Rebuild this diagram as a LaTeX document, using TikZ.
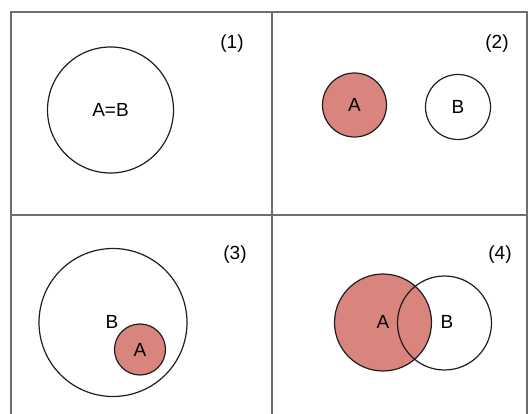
\documentclass[tikz,border=0pt]{standalone}
\usepackage{fontspec}
\setmainfont{Liberation Sans}
\usetikzlibrary{positioning}
\definecolor{cFrame}{RGB}{110,110,110}
\definecolor{cSetA}{RGB}{218,132,126}
\definecolor{cEdge}{RGB}{30,30,30}
\tikzset{
	setc/.style   ={circle, draw=cEdge, line width=1.2pt, inner sep=0pt},
	setfill/.style={setc, fill=cSetA},
	tag/.style    ={inner sep=0pt},
	frameln/.style={draw=cFrame, line width=2pt},
}
\begin{document}
\begin{tikzpicture}[x=1pt, y=-1pt, every node/.style={font=\fontsize{19}{22}\selectfont}]
	\useasboundingbox (0,0) rectangle (528,414);
	% frame and dividers
	\draw[frameln] (11,12) rectangle (527,420);
	\draw[frameln] (272,12) -- (272,420);
	\draw[frameln] (11,215) -- (527,215);
	% (1) A = B
	\node[setc, minimum size=126pt] (ab1) at (110.5,110) {A=B};
	\node[tag] (t1) at (232,44) {(1)};
	% (2) disjoint
	\node[setfill, minimum size=64pt] (a2) at (354.5,105) {A};
	\node[setc, minimum size=65pt] (b2) at (458,107) {B};
	\node[tag] (t2) at (497,44) {(2)};
	% (3) A inside B
	\node[setc, minimum size=148pt] (b3) at (113,322.5) {};
	\node[tag] (lb3) at (112,322) {B};
	\node[setfill, minimum size=51pt] (a3) at (140,349.5) {A};
	\node[tag] (t3) at (235,255) {(3)};
	% (4) overlapping
	\node[setfill, minimum size=97pt] (a4) at (383,322.5) {};
	\node[setc, minimum size=94pt] (b4) at (444.5,323) {};
	\node[tag] (la4) at (383,322) {A};
	\node[tag] (lb4) at (447,322) {B};
	\node[tag] (t4) at (500,255) {(4)};
\end{tikzpicture}
\end{document}
